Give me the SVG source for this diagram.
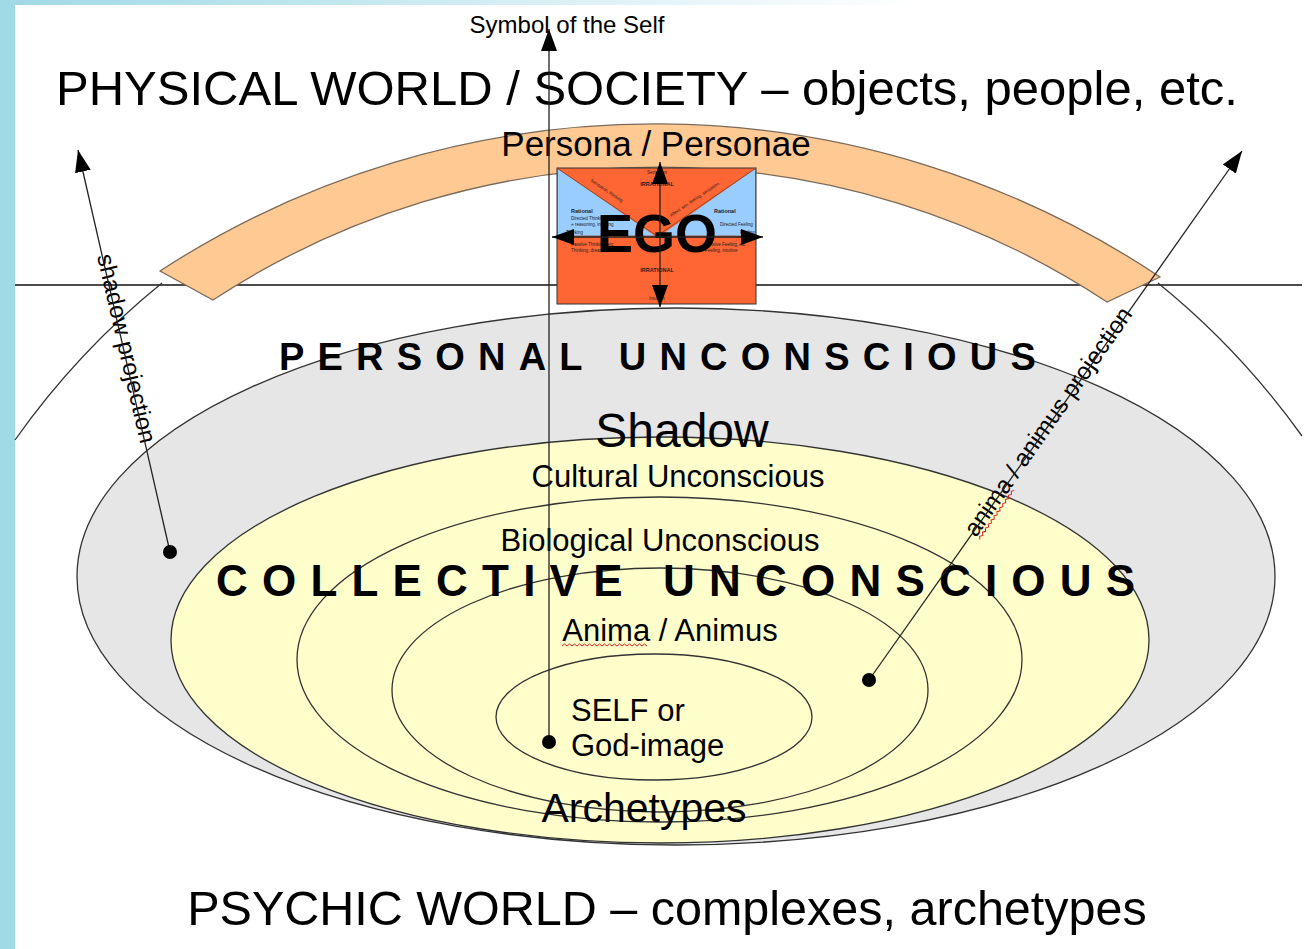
<svg xmlns="http://www.w3.org/2000/svg" width="1311" height="949" viewBox="0 0 1311 949">
<style>
text{font-family:"Liberation Sans",Arial,sans-serif;fill:#000}
.ln{stroke:#333;stroke-width:1.3;fill:none}
.el{stroke:#333;stroke-width:1.3}
.con{stroke:#222;stroke-width:1.3;fill:none}
.t5{font-size:4.5px;fill:#222}
.t6b{font-size:5.5px;font-weight:bold;fill:#222}
.sq{stroke:#e02020;stroke-width:1;fill:none}
</style>
<defs>
<linearGradient id="topbar" x1="0" y1="0" x2="1" y2="0">
<stop offset="0" stop-color="#9fd9e6"/>
<stop offset="0.7" stop-color="#ffffff"/>
</linearGradient>
<marker id="ah" viewBox="0 0 22 16" refX="22" refY="8" markerWidth="22" markerHeight="16" markerUnits="userSpaceOnUse" orient="auto-start-reverse">
<path d="M0,0 L22,8 L0,16 z" fill="#000"/>
</marker>
</defs>
<rect width="1311" height="949" fill="#fff"/>
<rect x="0" y="0" width="1311" height="5" fill="url(#topbar)"/>
<rect x="0" y="0" width="15" height="949" fill="#a0dae6"/>

<g id="world-boundary">
<line x1="15" y1="285" x2="1302" y2="285" stroke="#111" stroke-width="1.3"/>
<path class="ln" d="M15,440 A784,784 0 0 1 162,283"/>
<path class="ln" d="M1158,283 A784,784 0 0 1 1302,436"/>
</g>

<g id="personal-unconscious">
<ellipse class="el" cx="676" cy="576.5" rx="599" ry="268.5" fill="#e6e6e6"/>
</g>
<g id="cultural-unconscious">
<ellipse class="el" cx="660" cy="640" rx="489" ry="203" fill="#ffffcc"/>
</g>
<g id="biological-unconscious">
<ellipse class="el" cx="659.5" cy="659.5" rx="362.5" ry="162.5" fill="none"/>
</g>
<g id="anima-animus">
<ellipse class="el" cx="660" cy="690" rx="268" ry="122" fill="none"/>
</g>
<g id="self">
<ellipse class="el" cx="654" cy="717" rx="158" ry="63" fill="none"/>
</g>

<g id="persona">
<path d="M160,271 A908,908 0 0 1 1160,277 L1107,302 A813,813 0 0 0 213,300 Z" fill="#ffc993" stroke="#7a6a5a" stroke-width="1.3"/>
<text x="656" y="156" font-size="35" text-anchor="middle">Persona / Personae</text>
</g>

<g id="ego">
<rect x="557" y="168" width="199" height="136" fill="#ff6633" stroke="#333" stroke-width="1"/>
<polygon points="558,169 655,236 558,236" fill="#99ccff"/>
<polygon points="755,169 660,236 755,236" fill="#99ccff"/>
<path d="M557,168 L657,236 L756,168" fill="none" stroke="#8a4a30" stroke-width="1"/>
<line x1="557" y1="236" x2="756" y2="236" stroke="#8a4a30" stroke-width="0.8"/>
<text class="t5" x="657" y="174" text-anchor="middle">Sensation</text>
<text class="t6b" x="657" y="186" text-anchor="middle">IRRATIONAL</text>
<text class="t5" transform="translate(590,181) rotate(34)">Sensation, thinking</text>
<text class="t5" transform="translate(671,217) rotate(-34)">Affect, sex, feeling, sensation</text>
<text class="t6b" x="571" y="213">Rational</text>
<text class="t5" x="571" y="220">Directed Thinking</text>
<text class="t5" x="571" y="225.5">+ reasoning, inferring</text>
<text class="t5" x="566" y="234">Thinking</text>
<text class="t6b" x="714" y="213">Rational</text>
<text class="t5" x="720" y="226">Directed Feeling</text>
<text class="t5" x="740" y="234">Feeling</text>
<text class="t5" x="571" y="246">Passive Thinking, etc</text>
<text class="t5" x="571" y="251.5">Thinking, dreams</text>
<text class="t5" x="705" y="246">Passive Feeling, etc</text>
<text class="t5" x="705" y="251.5">Feeling, intuitive</text>
<text class="t6b" x="657" y="272" text-anchor="middle">IRRATIONAL</text>
<text class="t5" x="657" y="300" text-anchor="middle">Intuition</text>
<text x="657" y="252" font-size="54" font-weight="bold" text-anchor="middle">EGO</text>
</g>

<g id="labels">
<text x="567" y="33" font-size="24" text-anchor="middle">Symbol of the Self</text>
<text x="647" y="105" font-size="49" text-anchor="middle">PHYSICAL WORLD / SOCIETY – objects, people, etc.</text>
<text x="279" y="370" font-size="38" font-weight="bold" letter-spacing="13.2">PERSONAL UNCONSCIOUS</text>
<text x="682" y="447" font-size="48" text-anchor="middle">Shadow</text>
<text x="678" y="487" font-size="31" text-anchor="middle">Cultural Unconscious</text>
<text x="660" y="551" font-size="31" text-anchor="middle">Biological Unconscious</text>
<text x="216" y="596" font-size="44" font-weight="bold" letter-spacing="14.2">COLLECTIVE UNCONSCIOUS</text>
<text x="670" y="641" font-size="31" text-anchor="middle">Anima / Animus</text>
<path class="sq" d="M562,646 l2.5,-2 l2.5,2 l2.5,-2 l2.5,2 l2.5,-2 l2.5,2 l2.5,-2 l2.5,2 l2.5,-2 l2.5,2 l2.5,-2 l2.5,2 l2.5,-2 l2.5,2 l2.5,-2 l2.5,2 l2.5,-2 l2.5,2 l2.5,-2 l2.5,2 l2.5,-2 l2.5,2 l2.5,-2 l2.5,2 l2.5,-2 l2.5,2 l2.5,-2 l2.5,2 l2.5,-2 l2.5,2 l2.5,-2 l2.5,2 l2.5,-2 l2.5,2"/>
<text x="571" y="721" font-size="31">SELF or</text>
<text x="571" y="756" font-size="31">God-image</text>
<text x="644" y="822" font-size="41" text-anchor="middle">Archetypes</text>
<text x="667" y="925" font-size="48.5" text-anchor="middle">PSYCHIC WORLD – complexes, archetypes</text>
<text transform="translate(97,256) rotate(77)" font-size="24">shadow projection</text>
<g transform="translate(976,538) rotate(-54.9)">
<text x="0" y="0" font-size="24">anima / animus projection</text>
<path class="sq" d="M1,4 l2.5,-2 l2.5,2 l2.5,-2 l2.5,2 l2.5,-2 l2.5,2 l2.5,-2 l2.5,2 l2.5,-2 l2.5,2 l2.5,-2 l2.5,2 l2.5,-2 l2.5,2 l2.5,-2 l2.5,2 l2.5,-2 l2.5,2 l2.5,-2 l2.5,2 l2.5,-2 l2.5,2 l2.5,-2 l2.5,2"/>
</g>
</g>

<g id="connectors">
<line class="con" x1="549" y1="742" x2="549" y2="29" marker-end="url(#ah)"/>
<line class="con" x1="170" y1="552" x2="78" y2="150" marker-end="url(#ah)"/>
<line class="con" x1="869" y1="680" x2="1242" y2="151" marker-end="url(#ah)"/>
<line class="con" x1="660" y1="162" x2="660" y2="307" marker-start="url(#ah)" marker-end="url(#ah)"/>
<line class="con" x1="552" y1="237" x2="763" y2="237" marker-start="url(#ah)" marker-end="url(#ah)"/>
<circle cx="549" cy="742" r="7" fill="#000"/>
<circle cx="170" cy="552" r="7" fill="#000"/>
<circle cx="869" cy="680" r="7" fill="#000"/>
</g>
</svg>
